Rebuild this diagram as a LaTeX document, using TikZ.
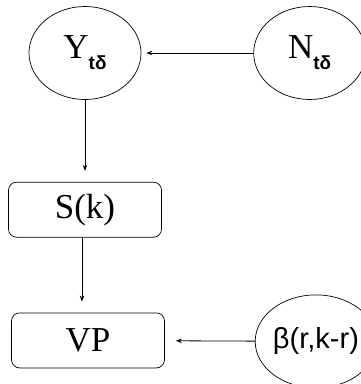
\documentclass[tikz,border=0pt]{standalone}
\usepackage{fontspec}
\setmainfont{Liberation Serif}
\newfontfamily\vpsans{Liberation Sans}
\usetikzlibrary{
  arrows.meta,
  shapes.geometric,
  positioning
}
\newcommand{\tdsub}{\raisebox{-0.32em}{\vpsans\fontsize{19}{20}\selectfont\bfseries tδ}}
\tikzset{
  vpnode/.style={
    draw, line width=0.7pt, inner sep=0pt, font=\fontsize{35}{38}\selectfont
  },
  varnode/.style={vpnode, ellipse, minimum width=112pt, minimum height=93pt},
  stagebox/.style={vpnode, rounded corners=8pt, minimum width=153pt, minimum height=55pt},
  link/.style={-{Stealth[length=6pt, width=4.5pt]}, line width=0.8pt, shorten >=11pt}
}

\begin{document}
\begin{tikzpicture}
  \useasboundingbox (0,0) rectangle (360pt,-384pt);
  \node[varnode] (y) at (85pt,-53pt) {Y\tdsub};
  \node[varnode, right=112pt of y] (n) {N\tdsub};
  \node[stagebox, below=82pt of y] (s) {S(k)};
  \node[stagebox, below=75pt of s, xshift=3pt] (vp) {VP};
  \node[varnode, right=90pt of vp, yshift=-1pt, font=\vpsans\fontsize{29}{31}\selectfont] (b) {β(r,k-r)};
  \draw[link, shorten >=5pt] (n) -- (y);
  \draw[link] (y) -- (s);
  \draw[link] ([xshift=-3pt]s.south) -- ([xshift=-3pt]s.south |- vp.north);
  \draw[link] (b) -- (vp);
\end{tikzpicture}
\end{document}
